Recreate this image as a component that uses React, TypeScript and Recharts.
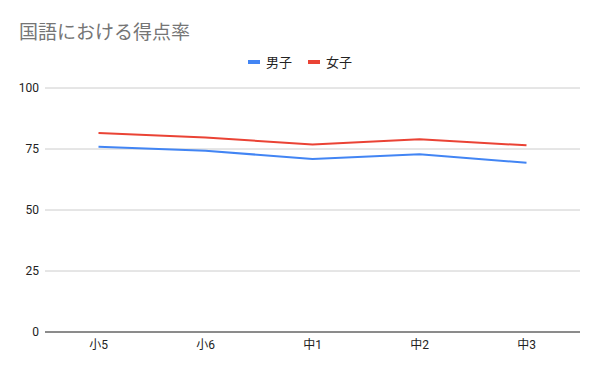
import React from 'react';
import { LineChart, Line, XAxis, YAxis, CartesianGrid } from 'recharts';

const categories = ['小5', '小6', '中1', '中2', '中3'];
const boys = [75.9, 74.3, 70.9, 72.8, 69.4];
const girls = [81.6, 79.7, 76.8, 79.0, 76.5];
const yTicks = [0, 25, 50, 75, 100];

const data = categories.map((c, i) => ({ name: c, 男子: boys[i], 女子: girls[i] }));

const FONT = 'Roboto, "Noto Sans CJK JP", Arial, sans-serif';
const seriesInfo = [
  { n: '男子', c: '#4285F4' },
  { n: '女子', c: '#EA4335' },
];

export default function App() {
  return (
    <div style={{ position: 'absolute', left: 0, top: 0, width: 600, height: 371, background: '#fff' }}>
      <div style={{ position: 'absolute', left: 19, top: 18, fontFamily: '"Noto Sans CJK JP", sans-serif', fontSize: 19, color: '#757575', lineHeight: '26px' }}>
        国語における得点率
      </div>
      <div style={{ position: 'absolute', left: 0, top: 53, width: 600, display: 'flex', justifyContent: 'center', fontFamily: '"Noto Sans CJK JP", sans-serif', fontSize: 13, color: '#222', lineHeight: '18px' }}>
        {seriesInfo.map((it, i) => (
          <div key={it.n} style={{ display: 'flex', alignItems: 'center', marginLeft: i ? 16 : 0 }}>
            <span style={{ display: 'inline-block', width: 12, height: 4, background: it.c, marginRight: 6 }} />
            <span>{it.n}</span>
          </div>
        ))}
      </div>
      <LineChart width={600} height={371} data={data} margin={{ top: 88, right: 20, bottom: 0, left: 0 }}>
        <CartesianGrid vertical={false} stroke="#cccccc" />
        <XAxis
          dataKey="name"
          padding={{ left: 53.5, right: 53.5 }}
          axisLine={{ stroke: '#333333' }}
          tickLine={false}
          tickSize={0}
          tickMargin={8}
          tick={{ fill: '#222', fontSize: 12, fontFamily: FONT }}
          height={39}
        />
        <YAxis
          domain={[0, 100]}
          ticks={yTicks}
          axisLine={false}
          tickLine={false}
          tickSize={0}
          tickMargin={6}
          width={45}
          tick={{ fill: '#222', fontSize: 12, fontFamily: FONT }}
        />
        <Line dataKey="男子" stroke="#4285F4" strokeWidth={2} dot={false} isAnimationActive={false} />
        <Line dataKey="女子" stroke="#EA4335" strokeWidth={2} dot={false} isAnimationActive={false} />
      </LineChart>
    </div>
  );
}
